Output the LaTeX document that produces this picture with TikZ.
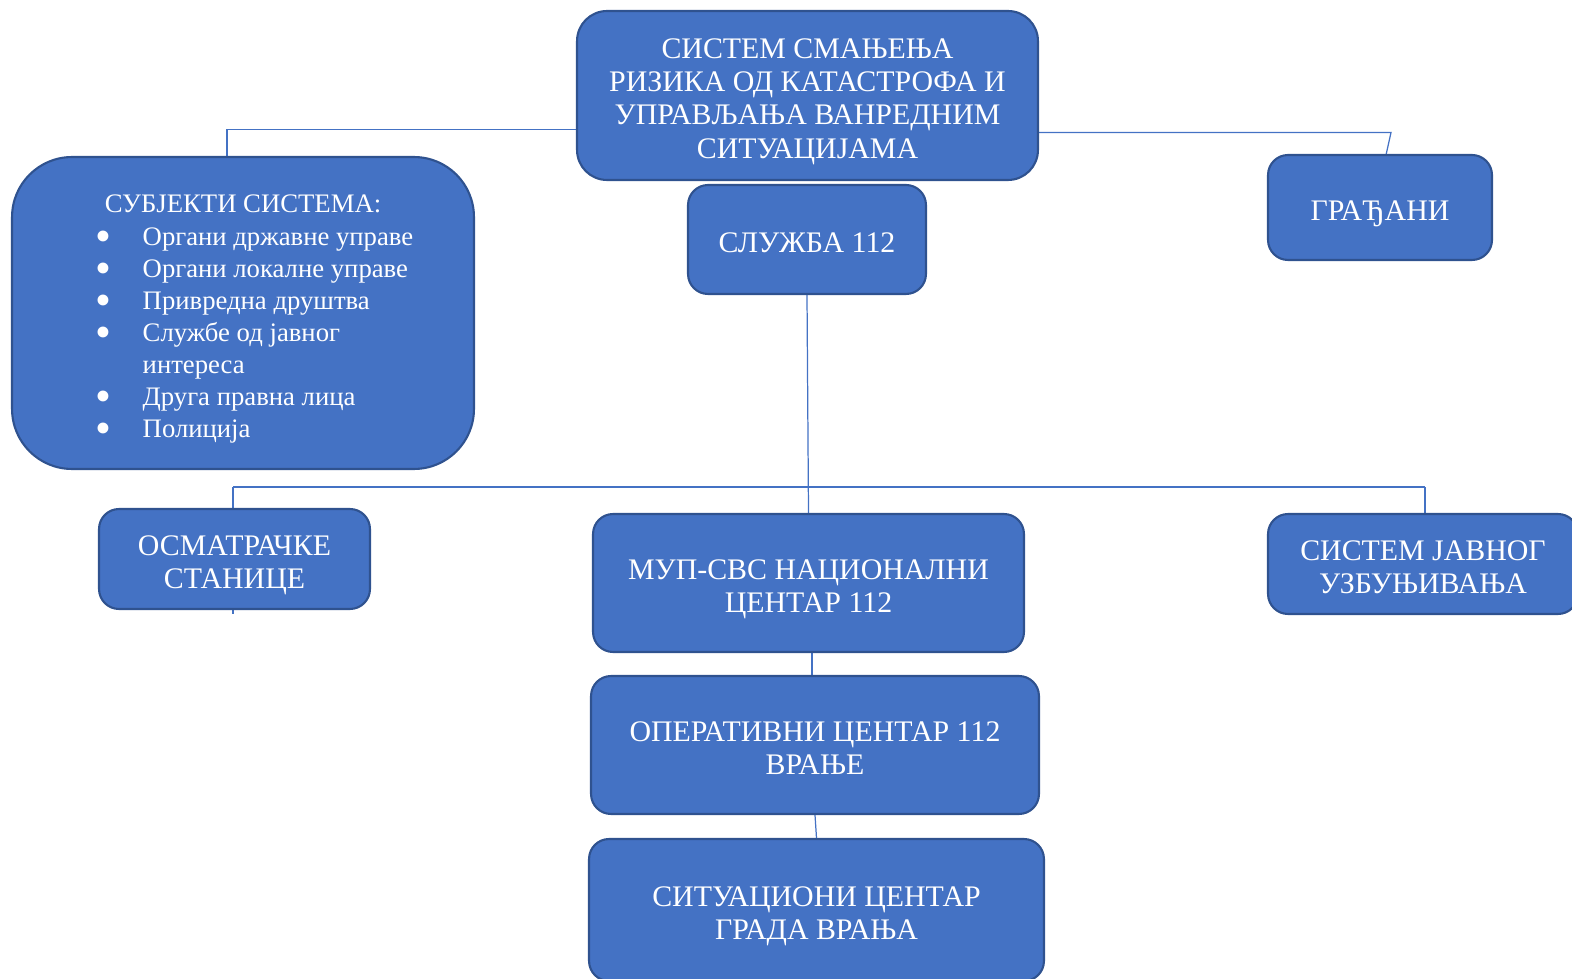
\documentclass[tikz,border=0pt]{standalone}
\usepackage{fontspec}
\setmainfont{Liberation Serif}
\usepackage{graphicx}
\usepackage{tikz}
\usetikzlibrary{backgrounds}

\definecolor{boxblue}{HTML}{4472C4}
\definecolor{boxedge}{HTML}{2F528F}
\newcommand{\topstrut}{\rule{0pt}{18.5pt}}
\newcommand{\botstrut}{\rule[-4pt]{0pt}{4pt}}
\newcommand{\bigbullet}{\hspace*{-0.1cm}\smash{\raisebox{-3.2pt}{\scalebox{1.7}{\textbullet}}}}

\begin{document}
\begin{tikzpicture}[x=0.02cm, y=-0.02cm,
        orgbox/.style={draw=boxedge, line width=1.2pt, fill=boxblue, text=white,
            rounded corners=0.4cm, align=center,
            font=\fontsize{17}{19}\selectfont, inner sep=0pt,
            execute at begin node=\topstrut, execute at end node=\botstrut},
        conn/.style={draw=boxblue, line width=0.7pt}]
        \useasboundingbox (0,0) rectangle (1572,979);

        \node[orgbox, rounded corners=0.6cm, minimum width=9.22cm, minimum height=3.38cm] (sistem) at (807.5,95.5)
            {\topstrut СИСТЕМ СМАЊЕЊА\\РИЗИКА ОД КАТАСТРОФА И\\УПРАВЉАЊА ВАНРЕДНИМ\\СИТУАЦИЈАМА\botstrut};
        \node[orgbox, rounded corners=1.2cm, minimum width=9.24cm, minimum height=6.24cm] (subjekti) at (243,313)
            {\fontsize{15.2}{18.2}\selectfont
            \raisebox{-0.11cm}[\height][\depth]{%
            \begin{tabular}{@{\hspace{0.56cm}}p{0.84cm}@{}l@{}}
            \multicolumn{2}{@{}c@{}}{СУБЈЕКТИ СИСТЕМА:}\\[1pt]
            \bigbullet & Органи државне управе\\
            \bigbullet & Органи локалне управе\\
            \bigbullet & Привредна друштва\\
            \bigbullet & Службе од јавног\\
                       & интереса\\
            \bigbullet & Друга правна лица\\
            \bigbullet & Полиција
            \end{tabular}}};
        \node[orgbox, minimum width=4.48cm, minimum height=2.1cm] (gradjani) at (1380,207.5) {ГРАЂАНИ};
        \node[orgbox, minimum width=4.76cm, minimum height=2.18cm] (sluzba) at (807,239.5) {СЛУЖБА 112};
        \node[orgbox, minimum width=5.42cm, minimum height=2.0cm] (osmatracke) at (234.5,559)
            {\topstrut ОСМАТРАЧКЕ\\СТАНИЦЕ\botstrut};
        \node[orgbox, minimum width=8.62cm, minimum height=2.76cm] (mup) at (808.5,583)
            {\topstrut МУП-СВС НАЦИОНАЛНИ\\ЦЕНТАР 112\botstrut};
        \node[orgbox, minimum width=6.2cm, minimum height=2.0cm] (javno) at (1423,564)
            {\topstrut СИСТЕМ ЈАВНОГ\\УЗБУЊИВАЊА\botstrut};
        \node[orgbox, minimum width=8.96cm, minimum height=2.76cm] (operativni) at (815,745)
            {\topstrut ОПЕРАТИВНИ ЦЕНТАР 112\\ВРАЊЕ\botstrut};
        \node[orgbox, minimum width=9.1cm, minimum height=2.84cm] (situacioni) at (816.5,910)
            {\topstrut СИТУАЦИОНИ ЦЕНТАР\\ГРАДА ВРАЊА\botstrut};

        % connectors behind the boxes
        \coordinate (lefttop) at (227,129.5);
        \coordinate (righttop) at (1391,132.5);
        \coordinate (gradin) at (1386,155);
        \coordinate (busleft) at (233,487);
        \coordinate (busright) at (1425,487);
        \coordinate (osmend) at (233,614);
        \coordinate (mupout) at (812,652);
        \begin{scope}[on background layer]
        \draw[conn] (sistem.west |- lefttop) -- (lefttop) -- (lefttop |- subjekti.north);
        \draw[conn] (sistem.east |- righttop) -- (righttop) -- (gradin);
        \draw[conn] (sluzba.south) -- (mup.north);
        \draw[conn] (busleft) -- (busright);
        \draw[conn] (busleft) -- (osmend);
        \draw[conn] (busright) -- (busright |- javno.north);
        \draw[conn] (mupout) -- (mupout |- operativni.north);
        \draw[conn] (operativni.south) -- (situacioni.north);
        \end{scope}
    \end{tikzpicture}
\end{document}
